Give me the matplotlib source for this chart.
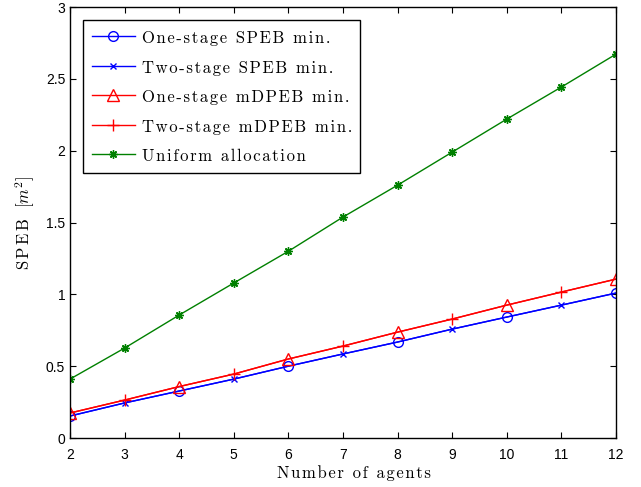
import matplotlib
matplotlib.use('Agg')
import matplotlib.pyplot as plt

agents = [2, 3, 4, 5, 6, 7, 8, 9, 10, 11, 12]
one_speb = [0.153, 0.244, 0.327, 0.41, 0.50, 0.585, 0.668, 0.758, 0.842, 0.925, 1.009]
two_speb = [0.153, 0.244, 0.327, 0.41, 0.50, 0.585, 0.668, 0.758, 0.842, 0.925, 1.009]
one_mdpeb = [0.174, 0.264, 0.358, 0.445, 0.55, 0.64, 0.737, 0.828, 0.925, 1.016, 1.106]
two_mdpeb = [0.174, 0.264, 0.358, 0.445, 0.55, 0.64, 0.737, 0.828, 0.925, 1.016, 1.106]
uniform = [0.41, 0.626, 0.856, 1.079, 1.30, 1.538, 1.76, 1.99, 2.22, 2.443, 2.672]

plt.rcParams['mathtext.fontset'] = 'cm'
serif = ['cmr10', 'DejaVu Serif']


def spaced(s):
    # MATLAB's serif text is drawn with wide letter spacing
    return '\u200a'.join(s)


fig = plt.figure(figsize=(6.41, 4.87), dpi=100)
ax = fig.add_axes([0.1092, 0.1006, 0.8518, 0.885])

ax.plot(agents, one_speb, color='b', lw=1, marker='o', mfc='none', ms=7,
        markevery=slice(0, None, 2), label=spaced('One-stage SPEB min.'))
ax.plot(agents, two_speb, color='b', lw=1, marker='x', ms=5,
        markevery=slice(1, None, 2), label=spaced('Two-stage SPEB min.'))
ax.plot(agents, one_mdpeb, color='r', lw=1, marker='^', mfc='none', ms=8,
        markevery=slice(0, None, 2), label=spaced('One-stage mDPEB min.'))
ax.plot(agents, two_mdpeb, color='r', lw=1, marker='+', ms=8,
        markevery=slice(1, None, 2), label=spaced('Two-stage mDPEB min.'))
ax.plot(agents, uniform, color=(0, 0.5, 0), lw=1, marker=(8, 2, 0), ms=6,
        label=spaced('Uniform allocation'))

ax.set_xlim(2, 12)
ax.set_ylim(0, 3)
ax.set_xticks(range(2, 13))
ax.set_yticks([0, 0.5, 1, 1.5, 2, 2.5, 3])
ax.set_yticklabels(['0', '0.5', '1', '1.5', '2', '2.5', '3'])
ax.tick_params(direction='in', labelsize=10, length=4, top=True, right=True)
ax.tick_params(axis='x', pad=7)
for s in ax.spines.values():
    s.set_linewidth(1)
for lab in ax.get_xticklabels() + ax.get_yticklabels():
    lab.set_family('Liberation Sans')

ax.set_xlabel(spaced('Number of agents'), family=serif, fontsize=12)
ax.xaxis.set_label_coords(0.521, -0.063)
ax.set_ylabel(r'S$\,$P$\,$E$\,$B  $[m^2]$', family=serif, fontsize=12, labelpad=6)

leg = ax.legend(loc='upper left', prop={'family': serif, 'size': 12},
                fancybox=False, edgecolor='k', framealpha=1,
                handlelength=2.6, handletextpad=0.4, handleheight=1.3,
                borderpad=0.5, borderaxespad=0.8, labelspacing=0.68)
leg.get_frame().set_linewidth(1)

fig.savefig('out.png', dpi=100)
